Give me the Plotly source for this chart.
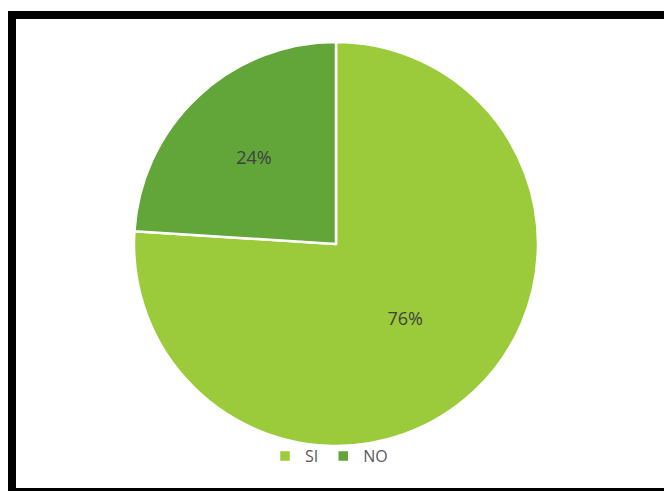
import plotly.graph_objects as go

labels = ["SI", "NO"]
values = [76, 24]
colors = ["#9BCB3B", "#62A539"]

W, H = 672, 491
# the page body adds an 8px offset; positions below are in figure pixels
cx, cy, r = 328, 236, 202

fig = go.Figure()
fig.add_trace(go.Pie(
    labels=labels,
    values=values,
    sort=False,
    direction="clockwise",
    rotation=0,
    marker=dict(colors=colors, line=dict(color="white", width=2.5)),
    textinfo="percent",
    texttemplate="%{percent:.0%}",
    textposition="inside",
    insidetextorientation="horizontal",
    textfont=dict(family="Open Sans", size=18, color="#404040"),
    domain=dict(x=[(cx - r) / W, (cx + r) / W],
                y=[(H - cy - r) / H, (H - cy + r) / H]),
    hoverinfo="label+percent",
))

fig.update_layout(
    width=W, height=H,
    margin=dict(l=0, r=0, t=0, b=0),
    paper_bgcolor="white",
    plot_bgcolor="white",
    showlegend=True,
    legend=dict(orientation="h", x=(333 - 12) / W, xanchor="center",
                y=1 - 448 / H, yanchor="middle",
                bgcolor="rgba(0,0,0,0)",
                font=dict(family="Open Sans", size=16, color="#595959"),
                itemwidth=30, traceorder="normal"),
    shapes=[dict(type="rect", xref="paper", yref="paper",
                 x0=4 / W, x1=1.05, y0=1 - 484 / H, y1=1 - 7 / H,
                 line=dict(color="black", width=8), fillcolor="rgba(0,0,0,0)")],
)

fig.write_html("out.html")
